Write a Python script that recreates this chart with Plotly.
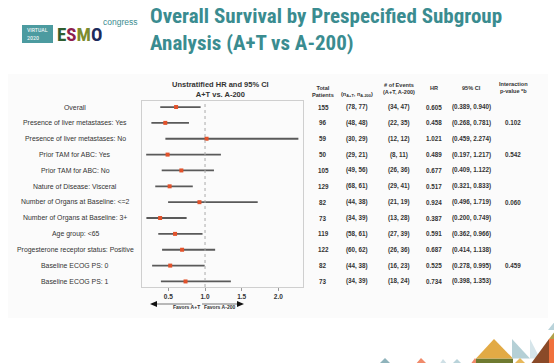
import plotly.graph_objects as go

W, H = 554, 363

subgroups = ["Overall", "Presence of liver metastases: Yes", "Presence of liver metastases: No",
             "Prior TAM for ABC: Yes", "Prior TAM for ABC: No", "Nature of Disease: Visceral",
             "Number of Organs at Baseline: <=2", "Number of Organs at Baseline: 3+",
             "Age group: <65", "Progesterone receptor status: Positive",
             "Baseline ECOG PS: 0", "Baseline ECOG PS: 1"]
hr = [0.605, 0.458, 1.021, 0.489, 0.677, 0.517, 0.924, 0.387, 0.591, 0.687, 0.525, 0.734]
ci_lo = [0.389, 0.268, 0.459, 0.197, 0.409, 0.321, 0.496, 0.200, 0.362, 0.414, 0.278, 0.398]
ci_hi = [0.940, 0.781, 2.274, 1.217, 1.122, 0.833, 1.719, 0.749, 0.966, 1.138, 0.995, 1.353]
total_pts = [155, 96, 59, 50, 105, 129, 82, 73, 119, 122, 82, 73]
n_at = [78, 48, 30, 29, 49, 68, 44, 34, 58, 60, 44, 34]
n_a200 = [77, 48, 29, 21, 56, 61, 38, 39, 61, 62, 38, 39]
ev_at = [34, 22, 12, 8, 26, 29, 21, 13, 27, 26, 16, 18]
ev_a200 = [47, 35, 12, 11, 36, 41, 19, 28, 39, 36, 23, 24]
p_interaction = ["", "0.102", "", "0.542", "", "", "0.060", "", "", "", "0.459", ""]
tick_vals = [0.5, 1.0, 1.5, 2.0]
tick_text = ["0.5", "1.0", "1.5", "2.0"]

FONT = "Liberation Sans, Arial, sans-serif"
NARROW = "Liberation Sans Narrow, Arial Narrow, Roboto Condensed, Liberation Sans, sans-serif"
TEAL = "#3a8c90"
TXT = "#333333"

def px(x):
    return x / W

def py(y):
    return 1 - y / H

rows = list(range(len(subgroups)))

fig = go.Figure()
fig.add_trace(go.Scatter(
    x=hr, y=rows, mode="markers",
    marker=dict(symbol="square", size=4, color="#e2522b"),
    error_x=dict(type="data", symmetric=False,
                 array=[h - m for h, m in zip(ci_hi, hr)],
                 arrayminus=[m - l for m, l in zip(hr, ci_lo)],
                 color="#5a5a5a", thickness=1.8, width=0),
    hoverinfo="skip", showlegend=False))

ann = []
for i, s in enumerate(subgroups):
    ann.append(dict(x=px(75), y=i, xref="paper", yref="y", text=s, showarrow=False,
                    xanchor="center", font=dict(family=FONT, size=6.9, color=TXT)))
cols = [(323, [str(v) for v in total_pts]),
        (357, [f"({a}, {b})" for a, b in zip(n_at, n_a200)]),
        (399, [f"({a}, {b})" for a, b in zip(ev_at, ev_a200)]),
        (434, [f"{v:.3f}" for v in hr]),
        (471, [f"({l:.3f}, {h:.3f})" for l, h in zip(ci_lo, ci_hi)]),
        (513, p_interaction)]
for cx, vals in cols:
    for i, v in enumerate(vals):
        if v:
            ann.append(dict(x=px(cx), y=i, xref="paper", yref="y", text=f"<b>{v}</b>",
                            showarrow=False, xanchor="center",
                            font=dict(family=FONT, size=6.3, color=TXT)))
headers = [(323, 91.5, "<b>Total<br>Patients</b>"),
           (357, 95, "<b>(n<sub>A+T</sub>, n<sub>A-200</sub>)</b>"),
           (399, 88.5, "<b># of Events<br>(A+T, A-200)</b>"),
           (434, 88.5, "<b>HR</b>"),
           (471, 88.5, "<b>95% CI</b>"),
           (513, 87.5, "<b>Interaction<br>p-value *b</b>")]
for cx, cy, t in headers:
    ann.append(dict(x=px(cx), y=py(cy), xref="paper", yref="paper", text=t, showarrow=False,
                    xanchor="center", yanchor="middle",
                    font=dict(family=FONT, size=5.6, color=TXT)))
ann.append(dict(x=px(220), y=py(89), xref="paper", yref="paper",
                text="<b>Unstratified HR and 95% CI<br>A+T vs. A-200</b>", showarrow=False,
                xanchor="center", yanchor="middle", font=dict(family=FONT, size=7.5, color=TXT)))
ann.append(dict(x=px(171), y=py(311.5), xref="paper", yref="paper", text="<b>Favors A+T</b>",
                showarrow=False, font=dict(family=FONT, size=5, color=TXT)))
ann.append(dict(x=px(219), y=py(311.5), xref="paper", yref="paper", text="<b>Favors A-200</b>",
                showarrow=False, font=dict(family=FONT, size=5, color=TXT)))
ann.append(dict(x=px(148), y=py(29), xref="paper", yref="paper",
                text="<b>Overall Survival by Prespecified Subgroup<br>Analysis (A+T vs A-200)</b>",
                showarrow=False, xanchor="left", yanchor="middle", align="left",
                font=dict(family=NARROW, size=21, color=TEAL)))
ann.append(dict(x=px(37), y=py(33.5), xref="paper", yref="paper", text="VIRTUAL<br>2020",
                showarrow=False, xanchor="center", yanchor="middle", align="left",
                font=dict(family=NARROW, size=6, color="white")))
ann.append(dict(x=px(55), y=py(34.5), xref="paper", yref="paper",
                text=("<b><span style='color:#2f5e30'>E</span><span style='color:#8e1f4f'>S</span>"
                      "<span style='color:#7c8b2d'>M</span><span style='color:#1c2b5c'>O</span></b>"),
                showarrow=False, xanchor="left", yanchor="middle",
                font=dict(family=NARROW, size=19, color="#2f5e30")))
ann.append(dict(x=px(101), y=py(22), xref="paper", yref="paper", text="congress",
                showarrow=False, xanchor="left", yanchor="middle",
                font=dict(family=FONT, size=8.5, color=TEAL)))
ann.append(dict(x=px(0), y=py(361), xref="paper", yref="paper",
                text="<b>ATION: 16-18 OCTOBER 2020</b>",
                showarrow=False, xanchor="left", yanchor="top",
                font=dict(family=FONT, size=9, color="#e8581f")))


def poly(pts, color):
    path = "M " + " L ".join(f"{px(a)},{py(b)}" for a, b in pts) + " Z"
    return dict(type="path", xref="paper", yref="paper", path=path, fillcolor=color,
                line=dict(width=0))


shapes = [
    dict(type="rect", xref="paper", yref="paper", x0=px(8), x1=px(548), y0=py(318), y1=py(74),
         fillcolor="#fbfbfb", line=dict(width=0), layer="below"),
    dict(type="rect", xref="paper", yref="paper", x0=px(22), x1=px(53), y0=py(43), y1=py(25),
         fillcolor="#4c9ba0", line=dict(width=0), layer="below"),
    dict(type="line", xref="x", yref="y domain", x0=1, x1=1, y0=0, y1=1,
         line=dict(color="#aaaaaa", width=1, dash="dot")),
    dict(type="line", xref="paper", yref="paper", x0=px(156), x1=px(192), y0=py(304), y1=py(304),
         line=dict(color="#777", width=1.2)),
    poly([(150, 304), (157, 301), (157, 307)], "#111"),
    dict(type="line", xref="paper", yref="paper", x0=px(202), x1=px(238), y0=py(304), y1=py(304),
         line=dict(color="#777", width=1.2)),
    poly([(244, 304), (237, 301), (237, 307)], "#111"),
]

shapes += [
    poly([(378, 365), (385, 358), (392, 365)], "#8fb3bb"),
    poly([(415, 365), (421, 358), (428, 365)], "#f08a6a"),
    poly([(439, 365), (443, 359), (448, 365)], "#cfe0e6"),
    poly([(451, 365), (457, 359), (463, 365)], "#b9d3da"),
    poly([(470, 365), (475, 358), (480, 365)], "#f08a6a"),
    dict(type="rect", xref="paper", yref="paper", x0=px(476), x1=px(513), y0=py(365), y1=py(358.5),
         fillcolor="#6f7a30", line=dict(width=0)),
    poly([(476, 358.5), (494, 339), (513, 358.5)], "#e2aa45"),
    poly([(512, 339), (512, 358.5), (530, 358.5)], "#b5d0d6"),
    poly([(530, 339), (530, 358.5), (540, 358.5)], "#d6e5ea"),
    poly([(530, 365), (549, 339), (549, 365)], "#8a4a28"),
    poly([(549, 339), (556, 339), (556, 365), (549, 365)], "#f0703c"),
    poly([(549, 339), (556, 330), (556, 339)], "#b0a04a"),
    poly([(556, 320), (556, 330), (548, 330)], "#b9d3da"),
    poly([(513, 365), (520, 358), (527, 365)], "#e7b85a"),
]

fig.update_layout(
    width=W, height=H, margin=dict(l=0, r=0, t=0, b=0),
    paper_bgcolor="white", plot_bgcolor="white",
    annotations=ann, shapes=shapes,
    xaxis=dict(domain=[px(142), px(303)], range=[0.14, 2.337], tickvals=tick_vals,
               ticktext=[f"<b>{t}</b>" for t in tick_text], showgrid=False, zeroline=False,
               showline=True, mirror=True, linecolor="#cfcfcf", linewidth=1,
               ticks="outside", ticklen=3, tickcolor="#999",
               tickfont=dict(family=FONT, size=6.5, color=TXT)),
    yaxis=dict(domain=[py(287), py(101)], range=[11.35, -0.38], showticklabels=False,
               showgrid=False, zeroline=False, showline=True, mirror=True,
               linecolor="#cfcfcf", linewidth=1, ticks=""),
)

fig.write_html("out.html", config={"displayModeBar": False},
               post_script="document.body.style.margin='0';document.body.style.overflow='hidden';")
